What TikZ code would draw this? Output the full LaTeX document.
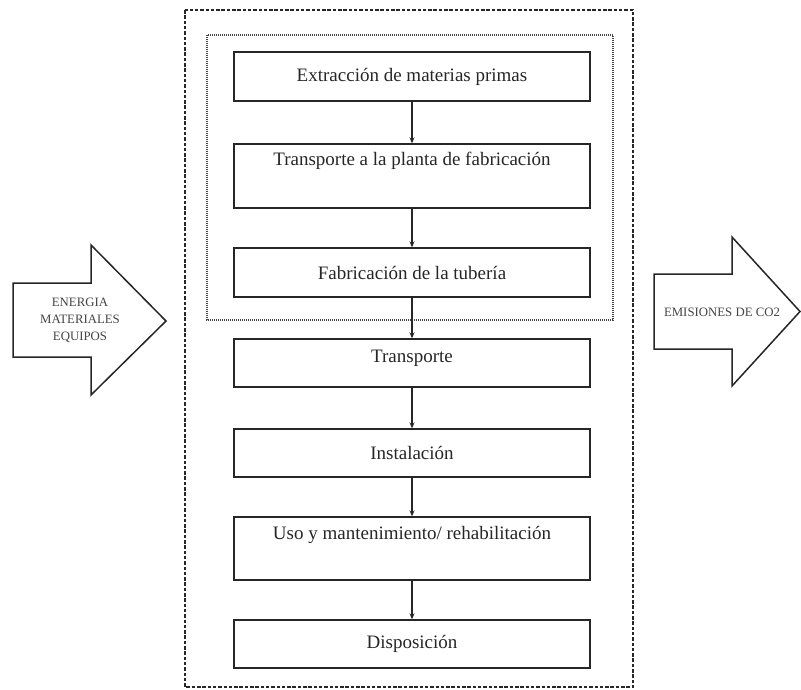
\documentclass[tikz,border=0pt]{standalone}
\usepackage{fontspec}
\setmainfont{Liberation Serif}
\usetikzlibrary{arrows.meta}
\definecolor{ink}{HTML}{262626}
\definecolor{softink}{HTML}{444444}
\begin{document}
\begin{tikzpicture}[x=1pt,y=-1pt,
  stagebox/.style={draw=ink, line width=1.4pt, minimum width=356pt, inner sep=0pt,
    font=\fontsize{19}{22}\selectfont, text=ink},
  stagetext/.style={font=\fontsize{19}{22}\selectfont, text=ink, inner sep=0pt},
  flow/.style={draw=ink, line width=1.1pt, -{Stealth[length=6pt,width=5pt]}},
  bigarrow/.style={draw=ink, line width=1.5pt, line join=miter, fill=white},
  arrowtext/.style={font=\fontsize{12.8}{17}\selectfont, text=softink, align=center, inner sep=0pt},
  outerframe/.style={draw=ink, line width=1.6pt, dash pattern=on 3.5pt off 1.8pt},
  innerframe/.style={draw=softink, line width=1.2pt, dash pattern=on 1pt off 1pt}]
\useasboundingbox (0,0) rectangle (801,689);
% frames
\draw[outerframe] (185,10) rectangle (633,687);
\draw[innerframe] (207,35) rectangle (613,320);
% stage boxes
\node[stagebox, minimum height=49pt] (b1) at (412,76.5) {Extracción de materias primas};
\node[stagebox, minimum height=64pt] (b2) at (412,176) {};
\node[stagetext] (t2) at (412,161) {Transporte a la planta de fabricación};
\node[stagebox, minimum height=49pt] (b3) at (412,272.5) {Fabricación de la tubería};
\node[stagebox, minimum height=48pt] (b4) at (412,363) {};
\node[stagetext] (t4) at (412,358) {Transporte};
\node[stagebox, minimum height=48pt] (b5) at (412,453) {Instalación};
\node[stagebox, minimum height=63pt] (b6) at (412,548.5) {};
\node[stagetext] (t6) at (412,535) {Uso y mantenimiento/ rehabilitación};
\node[stagebox, minimum height=48pt] (b7) at (412,644) {Disposición};
% flow arrows
\draw[flow] (b1.south) -- (b2.north);
\draw[flow] (b2.south) -- (b3.north);
\draw[flow] (b3.south) -- (b4.north);
\draw[flow] (b4.south) -- (b5.north);
\draw[flow] (b5.south) -- (b6.north);
\draw[flow] (b6.south) -- (b7.north);
% input arrow
\draw[bigarrow] (13,283) -- (91,283) -- (91,245) -- (166,321) -- (91,395) -- (91,357) -- (13,357) -- cycle;
\node[arrowtext] (inputs) at (80,320) {ENERGIA\\MATERIALES\\EQUIPOS};
% output arrow
\draw[bigarrow] (654,274) -- (732,274) -- (732,237) -- (800,311.5) -- (732,386) -- (732,349) -- (654,349) -- cycle;
\node[arrowtext] (outputs) at (722,312) {EMISIONES DE CO2};
\end{tikzpicture}
\end{document}
